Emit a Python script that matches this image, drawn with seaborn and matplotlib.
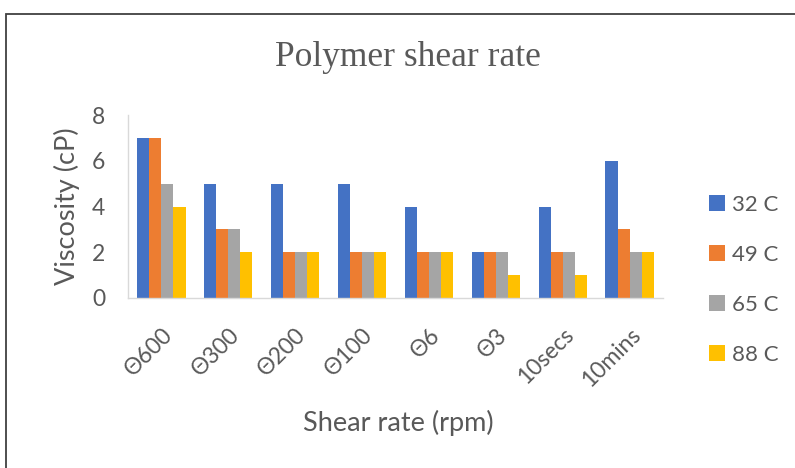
import matplotlib
matplotlib.use("Agg")
import matplotlib.pyplot as plt
from matplotlib.patches import Rectangle
import pandas as pd
import seaborn as sns

# Viscosity readings at each rheometer setting, per temperature
shear_rates = ["Θ600", "Θ300", "Θ200", "Θ100", "Θ6", "Θ3", "10secs", "10mins"]
temperatures = ["32 C", "49 C", "65 C", "88 C"]
visc_32 = [7, 5, 5, 5, 4, 2, 4, 6]
visc_49 = [7, 3, 2, 2, 2, 2, 2, 3]
visc_65 = [5, 3, 2, 2, 2, 2, 2, 2]
visc_88 = [4, 2, 2, 2, 2, 1, 1, 2]
colors = ["#4472C4", "#ED7D31", "#A5A5A5", "#FFC000"]

rows = []
for temp, series in zip(temperatures, [visc_32, visc_49, visc_65, visc_88]):
    for rate, v in zip(shear_rates, series):
        rows.append({"Shear rate": rate, "Viscosity": v, "Temperature": temp})
df = pd.DataFrame(rows)

sns.set_theme(style="white")
plt.rcParams["font.family"] = ["Lato", "DejaVu Sans"]
text_color = "#595959"

W, H = 795, 468
fig = plt.figure(figsize=(W / 100, H / 100), dpi=100)
ax = fig.add_axes([128 / W, (H - 298) / H, (663 - 128) / W, (298 - 115) / H])

sns.barplot(data=df, x="Shear rate", y="Viscosity", hue="Temperature",
            order=shear_rates, hue_order=temperatures, palette=colors,
            saturation=1, width=0.72, linewidth=0, ax=ax)

ax.set_ylim(0, 8)
ax.set_yticks([0, 2, 4, 6, 8])
ax.set_xlim(-0.5, len(shear_rates) - 0.5)

for side in ["top", "right"]:
    ax.spines[side].set_visible(False)
for side in ["left", "bottom"]:
    ax.spines[side].set_color("#D9D9D9")
    ax.spines[side].set_linewidth(1.0)

ax.tick_params(axis="y", length=0, pad=16.5, labelsize=16.5, labelcolor=text_color)
ax.tick_params(axis="x", length=0, pad=19, labelsize=16.5, labelcolor=text_color)
for lbl in ax.get_xticklabels():
    lbl.set_rotation(45)
    lbl.set_ha("right")
    lbl.set_va("top")
    lbl.set_rotation_mode("anchor")

ax.set_ylabel("Viscosity (cP)", fontsize=19.5, color=text_color)
ax.yaxis.label.set_va("center")
ax.yaxis.set_label_coords((67 - 128) / 535, 0.5)
ax.set_xlabel("Shear rate (rpm)", fontsize=19.5, color=text_color)
ax.xaxis.label.set_va("center")
ax.xaxis.set_label_coords((398 - 128) / 535, (298 - 423) / 183)

fig.text(408 / W, 1 - 58 / H, "Polymer shear rate", family="Liberation Serif",
         fontsize=25.5, color=text_color, ha="center", va="center")

leg = ax.legend(loc="center left", bbox_to_anchor=(709 / W, (H - 280) / H),
                bbox_transform=fig.transFigure, frameon=False, borderpad=0,
                borderaxespad=0, handlelength=0.7, handleheight=0.7,
                handletextpad=0.35, labelspacing=1.35, fontsize=16)
for t in leg.get_texts():
    t.set_color(text_color)

fig.add_artist(Rectangle((6 / W, -0.1), 1.2, (H - 14) / H + 0.1,
                         transform=fig.transFigure, fill=False,
                         edgecolor="#404040", linewidth=1.3))

fig.savefig("out.png", dpi=100)
